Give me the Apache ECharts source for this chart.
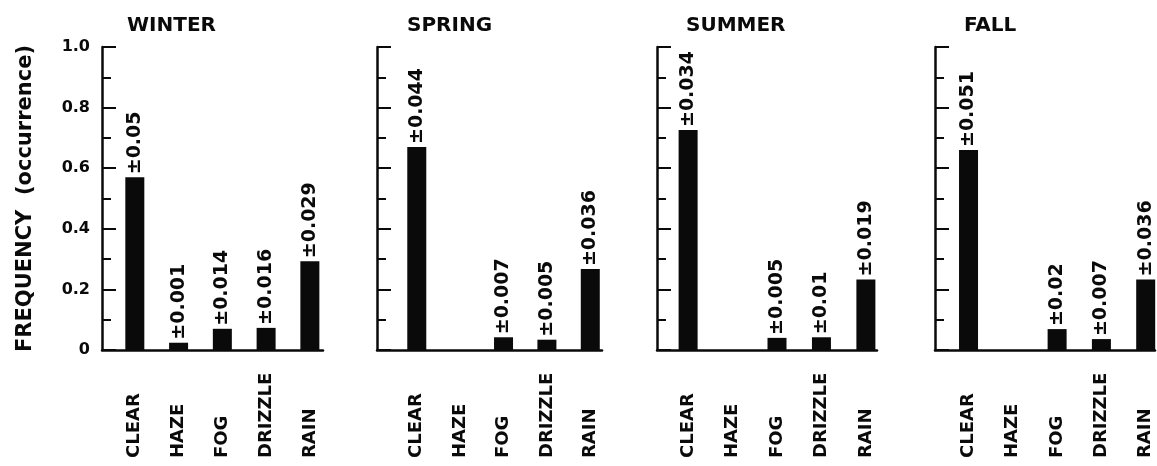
<!DOCTYPE html>
<html>
<head>
<meta charset="utf-8">
<script src="https://cdn.jsdelivr.net/npm/echarts@6/dist/echarts.min.js"></script>
<style>
html,body{margin:0;padding:0;background:#fff;}
#chart{width:1157px;height:466px;}
</style>
</head>
<body>
<div id="chart"></div>
<script>
// ---- data ----
const categories = ['CLEAR', 'HAZE', 'FOG', 'DRIZZLE', 'RAIN'];
const seasons = ['WINTER', 'SPRING', 'SUMMER', 'FALL'];
const yTicks = [0, 0.2, 0.4, 0.6, 0.8, 1.0];

const winterValues = [0.57, 0.024, 0.07, 0.073, 0.293];
const springValues = [0.67, null, 0.042, 0.034, 0.267];
const summerValues = [0.726, null, 0.04, 0.042, 0.233];
const fallValues   = [0.66, null, 0.069, 0.036, 0.233];

const winterErrors = ['±0.05', '±0.001', '±0.014', '±0.016', '±0.029'];
const springErrors = ['±0.044', '', '±0.007', '±0.005', '±0.036'];
const summerErrors = ['±0.034', '', '±0.005', '±0.01', '±0.019'];
const fallErrors   = ['±0.051', '', '±0.02', '±0.007', '±0.036'];

const seasonValues = [winterValues, springValues, summerValues, fallValues];
const seasonErrors = [winterErrors, springErrors, summerErrors, fallErrors];

// ---- layout (pixels / axis extents per panel) ----
const panels = [
  { left: 102, width: 221, xmin: 0.25,  xmax: 5.30, titleLeft: 122 },
  { left: 377, width: 225, xmin: 0.083, xmax: 5.27, titleLeft: 402 },
  { left: 657, width: 220, xmin: 0.30,  xmax: 5.25, titleLeft: 681 },
  { left: 935, width: 220, xmin: 0.243, xmax: 5.21, titleLeft: 959 }
];
const FONT = 'DejaVu Sans';
const INK = '#0a0a0a';

const grid = [], xAxis = [], yAxis = [], series = [], title = [];
panels.forEach((p, k) => {
  grid.push({ left: p.left, top: 47, width: p.width, height: 303, containLabel: false });
  title.push({
    text: seasons[k], left: p.titleLeft, top: 11,
    textStyle: { fontFamily: FONT, fontSize: 20, fontWeight: 'bold', color: INK }
  });
  xAxis.push({
    type: 'value', gridIndex: k, min: p.xmin, max: p.xmax,
    splitLine: { show: false },
    axisTick: { show: false },
    axisLine: { show: true, onZero: false, lineStyle: { color: INK, width: 2.5 } },
    axisLabel: {
      show: true,
      customValues: [1, 2, 3, 4, 5],
      formatter: v => categories[Math.round(v) - 1] || '',
      rotate: 90, align: 'left', verticalAlign: 'middle', margin: 108,
      fontFamily: FONT, fontSize: 18, fontWeight: 'bold', color: INK
    }
  });
  yAxis.push({
    type: 'value', gridIndex: k, min: 0, max: 1, interval: 0.2,
    name: k === 0 ? 'FREQUENCY  (occurrence)' : '',
    nameLocation: 'middle', nameGap: 66, nameRotate: 90,
    nameTextStyle: { fontFamily: FONT, fontSize: 21, fontWeight: 'bold', color: INK },
    splitLine: { show: false },
    axisLine: { show: true, onZero: false, lineStyle: { color: INK, width: 2.5 } },
    axisTick: { show: true, inside: true, length: 14, lineStyle: { color: INK, width: 2 } },
    minorTick: { show: true, splitNumber: 2, length: 9, lineStyle: { color: INK, width: 2 } },
    minorSplitLine: { show: false },
    axisLabel: {
      show: k === 0, margin: 12,
      customValues: yTicks,
      formatter: v => (v === 0 ? '0' : v.toFixed(1)),
      fontFamily: FONT, fontSize: 16, fontWeight: 'bold', color: INK
    }
  });
  const vals = seasonValues[k];
  const errs = seasonErrors[k];
  series.push({
    type: 'bar', xAxisIndex: k, yAxisIndex: k,
    barWidth: 19,
    itemStyle: { color: INK },
    data: vals.map((v, i) => [i + 1, v]),
    label: {
      show: true, position: 'top', rotate: 90, align: 'left', verticalAlign: 'middle',
      distance: 3,
      formatter: prm => (prm.value[1] == null ? '' : errs[prm.dataIndex]),
      fontFamily: FONT, fontSize: 19, fontWeight: 'bold', color: INK
    },
    animation: false
  });
});

const chart = echarts.init(document.getElementById('chart'), null, { renderer: 'canvas' });
chart.setOption({
  backgroundColor: '#ffffff',
  animation: false,
  title, grid, xAxis, yAxis, series
});
</script>
</body>
</html>
